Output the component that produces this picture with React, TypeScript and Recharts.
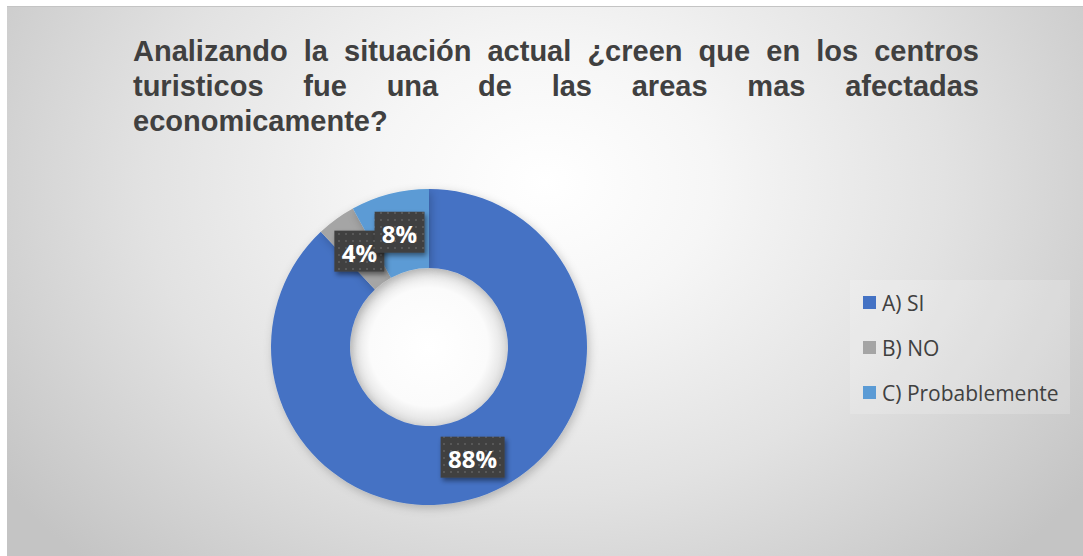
import React from "react";
import { PieChart, Pie, Cell, Legend } from "recharts";

const categories = ["A) SI", "B) NO", "C) Probablemente"];
const values = [88, 4, 8];
const colors = ["#4472C4", "#A5A5A5", "#5B9BD5"];
const titleLines = [
  "Analizando la situación actual ¿creen que en los centros",
  "turisticos fue una de las areas mas afectadas",
  "economicamente?",
];

const data = categories.map((name, i) => ({ name, value: values[i] }));
const holeData = [{ name: "hole", value: 1 }];

const W = 1076;
const H = 550;
const CX = 417;
const CY = 335;
const OUTER = 158;
const INNER = 79;
const RADIAN = Math.PI / 180;

const renderLabel = (props: any) => {
  const { cx, cy, midAngle, innerRadius, outerRadius, value, index } = props;
  const r = (innerRadius + outerRadius) / 2;
  const x = cx + r * Math.cos(-midAngle * RADIAN);
  const y = cy + r * Math.sin(-midAngle * RADIAN);
  const text = `${value}%`;
  const w = 22 + text.length * 14;
  const h = 41;
  return (
    <g key={`lbl-${index}`}>
      <rect
        x={x - w / 2}
        y={y - h / 2}
        width={w}
        height={h}
        fill="url(#dots)"
        filter="url(#boxShadow)"
      />
      <text
        x={x}
        y={y + 1}
        textAnchor="middle"
        dominantBaseline="central"
        fill="#ffffff"
        fontFamily="'Open Sans', sans-serif"
        fontWeight={700}
        fontSize={24}
      >
        {text}
      </text>
    </g>
  );
};

const renderLegend = () => (
  <div
    style={{
      width: 220,
      height: 134,
      background: "rgba(255,255,255,0.18)",
      boxSizing: "border-box",
      paddingLeft: 13,
      paddingTop: 0,
      fontFamily: "'Open Sans', sans-serif",
      fontSize: 21,
      color: "#404040",
    }}
  >
    {categories.map((c, i) => (
      <div
        key={c}
        style={{ display: "flex", alignItems: "center", height: 45 }}
      >
        <span
          style={{
            display: "inline-block",
            width: 13,
            height: 13,
            background: colors[i],
            marginRight: 6,
          }}
        />
        <span>{c}</span>
      </div>
    ))}
  </div>
);

export default function App() {
  return (
    <div
      style={{
        position: "absolute",
        left: 7,
        top: 6,
        width: W,
        height: H,
        boxSizing: "border-box",
        borderTop: "1px solid #c4c4c4",
        background:
          "radial-gradient(ellipse 62% 95% at 50% 32%, #ffffff 0%, #f6f6f6 25%, #e2e2e2 60%, #c4c4c4 100%)",
        overflow: "hidden",
      }}
    >
      <div
        style={{
          position: "absolute",
          left: 126,
          top: 27,
          width: 846,
          fontFamily: "'Liberation Sans', Arial, sans-serif",
          fontWeight: 700,
          fontSize: 29,
          lineHeight: "35px",
          color: "#404040",
        }}
      >
        {titleLines.map((t, i) => (
          <div
            key={i}
            style={{
              textAlign: "justify",
              textAlignLast: i < titleLines.length - 1 ? "justify" : "left",
              whiteSpace: "nowrap",
            }}
          >
            {t}
          </div>
        ))}
      </div>
      <PieChart width={W} height={H} style={{ position: "absolute", left: 0, top: 0 }}>
        <defs>
          <pattern id="dots" width="7" height="7" patternUnits="userSpaceOnUse">
            <rect width="7" height="7" fill="#404040" />
            <rect x="2" y="2" width="2" height="2" fill="#595959" />
          </pattern>
          <filter id="boxShadow" x="-30%" y="-30%" width="160%" height="160%">
            <feDropShadow dx="2" dy="3" stdDeviation="2.5" floodColor="#000" floodOpacity="0.45" />
          </filter>
          <filter id="pieShadow" x="-20%" y="-20%" width="140%" height="140%">
            <feDropShadow dx="2" dy="3" stdDeviation="5" floodColor="#000" floodOpacity="0.22" />
          </filter>
          <radialGradient id="hole" cx="50%" cy="50%" r="50%">
            <stop offset="0%" stopColor="#ffffff" />
            <stop offset="75%" stopColor="#fbfbfb" />
            <stop offset="100%" stopColor="#dedede" />
          </radialGradient>
        </defs>
        <Pie
          data={holeData}
          dataKey="value"
          cx={CX}
          cy={CY}
          innerRadius={0}
          outerRadius={INNER}
          startAngle={90}
          endAngle={-270}
          stroke="none"
          fill="url(#hole)"
          isAnimationActive={false}
          legendType="none"
        />
        <Pie
          data={data}
          dataKey="value"
          nameKey="name"
          cx={CX}
          cy={CY}
          innerRadius={INNER}
          outerRadius={OUTER}
          startAngle={90}
          endAngle={-270}
          stroke="none"
          labelLine={false}
          label={renderLabel}
          isAnimationActive={false}
          style={{ filter: "url(#pieShadow)" }}
        >
          {data.map((d, i) => (
            <Cell key={d.name} fill={colors[i]} />
          ))}
        </Pie>
        <Legend
          content={renderLegend}
          wrapperStyle={{ position: "absolute", left: 843, top: 273, width: 220 }}
        />
      </PieChart>
    </div>
  );
}
